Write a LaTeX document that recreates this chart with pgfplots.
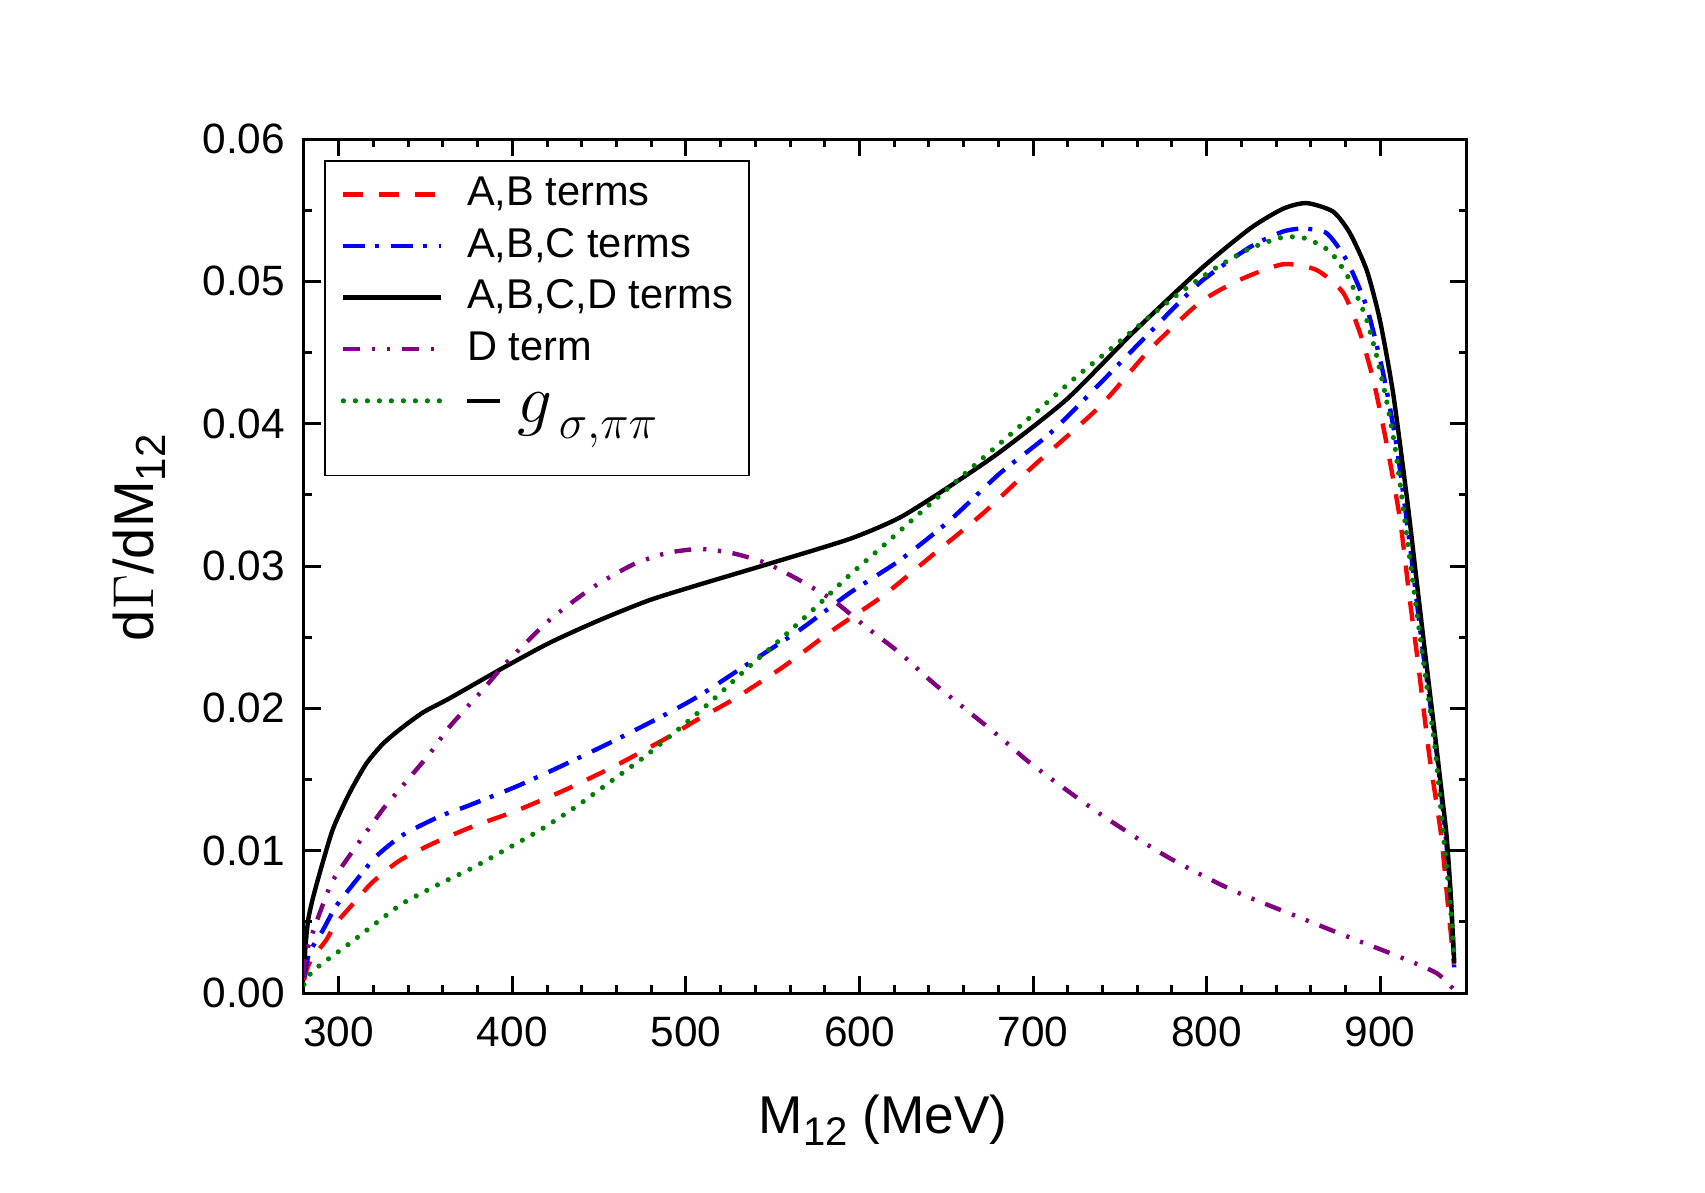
\documentclass[border=0pt]{standalone}
\usepackage{fontspec}
\setmainfont{Liberation Sans}
\usepackage{pgfplots}
\pgfplotsset{compat=1.18}

\definecolor{abRed}{RGB}{255,0,0}
\definecolor{abcBlue}{RGB}{0,0,255}
\definecolor{dPurple}{RGB}{128,0,128}
\definecolor{gGreen}{RGB}{0,128,0}

\begin{document}
\begin{tikzpicture}
\useasboundingbox (-76pt,-49.75pt) rectangle (350.25pt,248.25pt);
\begin{axis}[
  scale only axis,
  width=290.75pt, height=213.5pt,
  xmin=280, xmax=950, ymin=0, ymax=0.06,
  xtick={300,400,500,600,700,800,900},
  minor x tick num=4,
  ytick={0,0.01,0.02,0.03,0.04,0.05,0.06},
  minor y tick num=1,
  scaled y ticks=false,
  /pgf/number format/assume math mode=true,
  yticklabel style={/pgf/number format/fixed, /pgf/number format/fixed zerofill,
    /pgf/number format/precision=2, xshift=-1.2pt},
  xticklabel style={yshift=-2.4pt},
  tick label style={font=\fontsize{10.6}{12}\selectfont},
  tick align=inside,
  major tick length=4.2pt, minor tick length=2.1pt,
  tick style={black, line width=0.75pt},
  axis line style={line width=0.75pt},
  no markers,
  xlabel={M\raisebox{-3pt}{\fontsize{10}{10}\selectfont 12} (MeV)},
  xlabel style={at={(axis description cs:0.498,0)}, anchor=base, yshift=-35pt,
    font=\fontsize{13.3}{15}\selectfont},
  ylabel={d$\Gamma$/dM\raisebox{-3pt}{\fontsize{10.5}{10.5}\selectfont 12}},
  ylabel style={at={(axis description cs:-0.142,0.533)}, anchor=center, rotate=0,
    font=\fontsize{14}{16}\selectfont},
  legend style={at={(axis description cs:0.0172,0.9754)}, anchor=north west,
    draw=black, line width=0.4pt, font=\fontsize{10.4}{12}\selectfont,
    inner xsep=4pt, inner ysep=2pt, row sep=0pt, column sep=5.8pt,
    cells={anchor=base west},
    nodes={inner xsep=0pt, inner ysep=1.5pt, text height=7.7pt, text depth=2.2pt}},
  legend image code/.code={\draw[#1] (0pt,2.8pt) -- (24.5pt,2.8pt);},
]

% A,B terms
\addplot[abRed, line width=1.1pt, dash pattern=on 5pt off 4pt, smooth, tension=0.4] coordinates {
(280,0.0009) (282,0.0018) (285,0.0025) (292.7,0.0037) (298.5,0.0049) (310,0.0065)
(319.6,0.0078) (335,0.0093) (354.2,0.0105) (377.2,0.0117) (402.2,0.0128) (431,0.0143)
(459.9,0.0160) (488.7,0.0179) (507.9,0.0193) (527,0.0206) (555.9,0.0229) (584.7,0.0255)
(613.5,0.0279) (642.4,0.0308) (671.2,0.0337) (700,0.0370) (738.4,0.0412) (767.2,0.0452)
(796,0.0485) (819,0.0501) (844,0.0512) (863.3,0.0508) (878.7,0.0492) (888.3,0.0464)
(896,0.0431) (903.7,0.0386) (911.4,0.0333) (917,0.0277) (921.7,0.0233) (928.3,0.0167)
(935,0.0112) (938.8,0.0065) (942.5,0.0020)
};
\addlegendentry{A,B terms}

% A,B,C terms
\addplot[abcBlue, line width=1.1pt, dash pattern=on 5.5pt off 2.5pt on 1pt off 3pt, smooth, tension=0.4] coordinates {
(280,0.0011) (283,0.0028) (290.8,0.0044) (298.5,0.0061) (310,0.0079) (321.6,0.0096)
(336.9,0.0111) (358,0.0124) (373.4,0.0131) (402.2,0.0145) (431,0.0161) (459.9,0.0178)
(488.7,0.0196) (507.9,0.0209) (536.7,0.0232) (565.5,0.0255) (594.3,0.0281) (623.2,0.0304)
(652,0.0332) (680.8,0.0365) (709.6,0.0393) (738.4,0.0428) (767.2,0.0464) (796,0.0499)
(824.9,0.0524) (844,0.0535) (855.6,0.0537) (869,0.0534) (880.6,0.0515) (892.2,0.0482)
(901.8,0.0435) (909.5,0.0384) (917.2,0.0314) (924.3,0.0243) (931.8,0.0176) (937.6,0.0112)
(940.8,0.0065) (942.6,0.0018)
};
\addlegendentry{A,B,C terms}

% A,B,C,D terms
\addplot[black, line width=1.1pt, smooth, tension=0.4] coordinates {
(280,0.0015) (281,0.0035) (282.5,0.0052) (285,0.0066) (289,0.0084) (296.6,0.0115)
(306,0.0140) (315.8,0.0161) (325.4,0.0175) (335,0.0185) (348.4,0.0197) (363.8,0.0207)
(392.6,0.0227) (421.4,0.0246) (450.3,0.0262) (479,0.0276) (507.9,0.0287) (546.3,0.0301)
(594.3,0.0319) (623.2,0.0334) (652,0.0356) (680.8,0.0380) (719.3,0.0417) (757.6,0.0464)
(796,0.0508) (824.9,0.0537) (844,0.0551) (857.6,0.0555) (872.9,0.0549) (882.5,0.0534)
(892.2,0.0508) (899.8,0.0473) (907.5,0.0421) (915.6,0.0346) (920.4,0.0296) (925.2,0.0246)
(931.8,0.0179) (936,0.0135) (938.3,0.0110) (940.5,0.0072) (942.7,0.0021)
};
\addlegendentry{A,B,C,D terms}

% D term
\addplot[dPurple, line width=1.1pt, dash pattern=on 4.2pt off 3pt on 0.8pt off 2.9pt on 0.8pt off 2.9pt, smooth, tension=0.4] coordinates {
(280,0.0012) (280.5,0.0023) (283,0.0035) (289,0.0056) (296.6,0.0079) (310,0.0103)
(325.4,0.0129) (335,0.0143) (352.3,0.0168) (363.8,0.0187) (383,0.0213) (396.5,0.0232)
(421.4,0.0262) (446.4,0.0285) (469.5,0.0301) (488.7,0.0309) (507.9,0.0312) (527,0.0309)
(546.3,0.0302) (565.5,0.0290) (584.7,0.0276) (604,0.0257) (623.2,0.0239) (642.4,0.0218)
(661.6,0.0199) (680.8,0.0180) (700,0.0160) (738.4,0.0126) (776.9,0.0096) (815.3,0.0072)
(853.7,0.0053) (882.5,0.0039) (912,0.0025) (932.5,0.0014) (942,0.0003)
};
\addlegendentry{D term}

% -g_{sigma,pi pi}
\addplot[gGreen, line width=1.3pt, line cap=round, dash pattern=on 0pt off 3pt, smooth, tension=0.4] coordinates {
(280,0.0006) (284,0.0014) (290.8,0.0021) (304.3,0.0033) (323.5,0.0051) (336.9,0.0063)
(357,0.0076) (377.2,0.0088) (396.5,0.0101) (416.7,0.0115) (436.8,0.0131) (456,0.0148)
(476.2,0.0166) (496.4,0.0186) (515.6,0.0206) (535.2,0.0228) (555,0.0249) (574.8,0.0271)
(593.8,0.0293) (613.5,0.0314) (632.8,0.0335) (652.4,0.0356) (672.2,0.0377) (685.6,0.0391)
(705.4,0.0412) (725,0.0433) (745.2,0.0453) (765,0.0473) (784.6,0.0492) (804.7,0.0509)
(824.9,0.0523) (844,0.0531) (857.6,0.0530) (871,0.0521) (880.6,0.0505) (887.3,0.0488)
(892.2,0.0473) (897.9,0.0448) (903.7,0.0416) (908.5,0.0384) (912.3,0.0350) (916.1,0.0314)
(920,0.0278) (923.8,0.0243) (931.5,0.0173) (936.3,0.0112) (940.2,0.0065) (942.5,0.0028)
};
\addlegendentry[text depth=12.4pt]{\rule[2.3pt]{8.2pt}{0.95pt}\hspace{4.5pt}\raisebox{-2.7pt}{\fontsize{17.5}{17.5}\selectfont$g$}\hspace{1.5pt}\raisebox{-6.6pt}{\fontsize{13}{13}\selectfont$\sigma{,}\pi\pi$}}

\end{axis}
\end{tikzpicture}
\end{document}
